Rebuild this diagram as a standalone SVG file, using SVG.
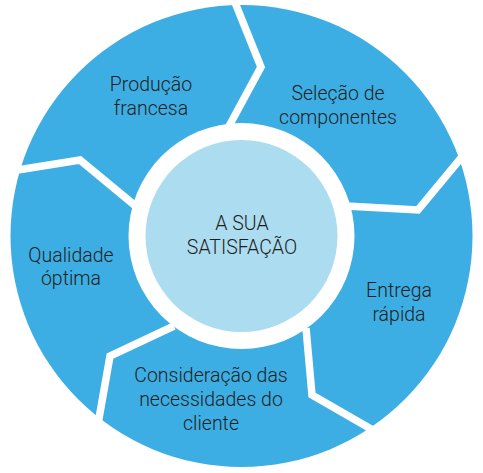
<svg xmlns="http://www.w3.org/2000/svg" width="483" height="473" viewBox="0 0 483 473">
<style>
.seg{fill:#3DAEE3}
.gap{fill:none;stroke:#fff;stroke-width:7.5;stroke-linejoin:miter;stroke-linecap:butt}
.t{font-family:Roboto,"Liberation Sans",Arial,sans-serif;font-weight:300;font-size:19.5px;fill:#1f1f1f;text-anchor:middle}
</style>
<rect width="483" height="473" fill="#fff"/>
<g id="ring">
<circle class="seg" cx="241.5" cy="236" r="231"/>
</g>
<g id="connectors">
<polyline class="gap" points="232,-5 261,67 228,128"/>
<polyline class="gap" points="466,152 418,210 346,206"/>
<polyline class="gap" points="306,328 312,395 378,433"/>
<polyline class="gap" points="174,326 110,356 98,424"/>
<polyline class="gap" points="5,172 80,160 138,208"/>
</g>
<g id="center">
<circle cx="241.5" cy="236" r="113" fill="#fff"/>
<circle cx="241.5" cy="236" r="96" fill="#ABDCEF"/>
<text class="t" x="242" y="230">A SUA</text>
<text class="t" x="242" y="254">SATISFAÇÃO</text>
</g>
<g id="producao">
<text class="t" x="151" y="91">Produção</text>
<text class="t" x="151" y="115">francesa</text>
</g>
<g id="selecao">
<text class="t" x="338" y="100">Seleção de</text>
<text class="t" x="338" y="124">componentes</text>
</g>
<g id="entrega">
<text class="t" x="399" y="297">Entrega</text>
<text class="t" x="399" y="321">rápida</text>
</g>
<g id="consideracao">
<text class="t" x="211" y="382">Consideração das</text>
<text class="t" x="211" y="406">necessidades do</text>
<text class="t" x="211" y="430">cliente</text>
</g>
<g id="qualidade">
<text class="t" x="71" y="262">Qualidade</text>
<text class="t" x="71" y="285">óptima</text>
</g>
</svg>
